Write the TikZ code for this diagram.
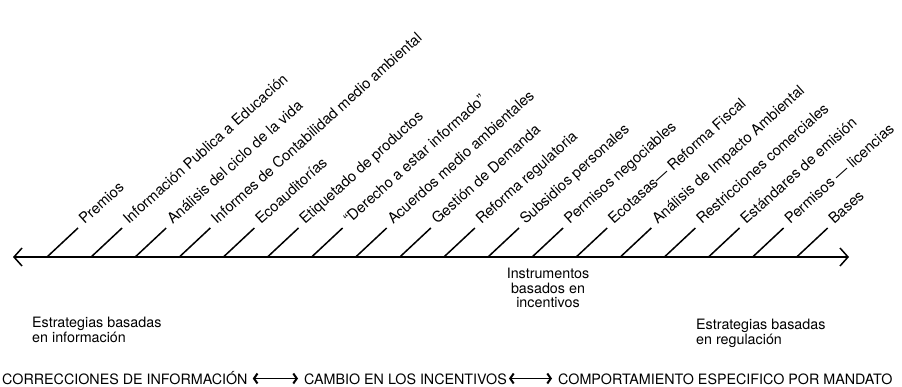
\documentclass[tikz,border=0pt]{standalone}
\usepackage{fontspec}
\setmainfont{TeX Gyre Heros}
\usepackage{tikz}
\usetikzlibrary{arrows.meta}

\begin{document}
\begin{tikzpicture}[x=1pt,y=1pt,
  eje/.style={line width=1.5pt,arrows={Straight Barb[length=8pt,width=18pt]-Straight Barb[length=8pt,width=18pt]}},
  raya/.style={line width=1.5pt},
  lbl/.style={anchor=base west,rotate=42,inner sep=0pt,font=\fontsize{14.8}{15.5}\selectfont},
  txt/.style={inner sep=0pt,font=\fontsize{14.3}{14.5}\selectfont},
  dbl/.style={line width=0.8pt,arrows={Straight Barb[length=3.5pt,width=10pt,line width=2pt]-Straight Barb[length=3.5pt,width=10pt,line width=2pt]}}]
  %\draw[step=10pt,gray,very thin] (0,0) grid (902,386);
  \useasboundingbox (0,0) rectangle (902,386);

  % eje principal
  \coordinate (izq) at (13,129);
  \coordinate (der) at (849,129);
  \draw[eje] (izq) -- (der);

  % rayas y etiquetas
  \draw[raya] (47,129) -- ++(31,29) coordinate (t1);
  \node[lbl] (l1) at ([shift={(6.5,3)}]t1) {Premios};
  \draw[raya] (91.1,129) -- ++(31,29) coordinate (t2);
  \node[lbl] (l2) at ([shift={(6.5,3)}]t2) {Información Publica a Educación};
  \draw[raya] (135.2,129) -- ++(31,29) coordinate (t3);
  \node[lbl] (l3) at ([shift={(6.5,3)}]t3) {Análisis del ciclo de la vida};
  \draw[raya] (179.3,129) -- ++(31,29) coordinate (t4);
  \node[lbl] (l4) at ([shift={(6.5,3)}]t4) {Informes de Contabilidad medio ambiental};
  \draw[raya] (223.4,129) -- ++(31,29) coordinate (t5);
  \node[lbl] (l5) at ([shift={(6.5,3)}]t5) {Ecoauditorías};
  \draw[raya] (267.5,129) -- ++(31,29) coordinate (t6);
  \node[lbl] (l6) at ([shift={(6.5,3)}]t6) {Etiquetado de productos};
  \draw[raya] (311.6,129) -- ++(31,29) coordinate (t7);
  \node[lbl] (l7) at ([shift={(6.5,3)}]t7) {“Derecho a estar informado”};
  \draw[raya] (355.7,129) -- ++(31,29) coordinate (t8);
  \node[lbl] (l8) at ([shift={(6.5,3)}]t8) {Acuerdos medio ambientales};
  \draw[raya] (399.8,129) -- ++(31,29) coordinate (t9);
  \node[lbl] (l9) at ([shift={(6.5,3)}]t9) {Gestión de Demanda};
  \draw[raya] (443.9,129) -- ++(31,29) coordinate (t10);
  \node[lbl] (l10) at ([shift={(6.5,3)}]t10) {Reforma regulatoria};
  \draw[raya] (488,129) -- ++(31,29) coordinate (t11);
  \node[lbl] (l11) at ([shift={(6.5,3)}]t11) {Subsidios personales};
  \draw[raya] (532.1,129) -- ++(31,29) coordinate (t12);
  \node[lbl] (l12) at ([shift={(6.5,3)}]t12) {Permisos negociables};
  \draw[raya] (576.2,129) -- ++(31,29) coordinate (t13);
  \node[lbl] (l13) at ([shift={(6.5,3)}]t13) {Ecotasas— Reforma Fiscal};
  \draw[raya] (620.3,129) -- ++(31,29) coordinate (t14);
  \node[lbl] (l14) at ([shift={(6.5,3)}]t14) {Análisis de Impacto Ambiental};
  \draw[raya] (664.4,129) -- ++(31,29) coordinate (t15);
  \node[lbl] (l15) at ([shift={(6.5,3)}]t15) {Restricciones comerciales};
  \draw[raya] (708.5,129) -- ++(31,29) coordinate (t16);
  \node[lbl] (l16) at ([shift={(6.5,3)}]t16) {Estándares de emisión};
  \draw[raya] (752.6,129) -- ++(31,29) coordinate (t17);
  \node[lbl] (l17) at ([shift={(6.5,3)}]t17) {Permisos — licencias};
  \draw[raya] (796.7,129) -- ++(31,29) coordinate (t18);
  \node[lbl] (l18) at ([shift={(6.5,3)}]t18) {Bases};

  % textos bajo el eje
  \node[txt,align=center,anchor=north] (incent) at (548,118) {Instrumentos\\basados en\\incentivos};
  \node[txt,align=left,anchor=north west] (info) at (32,69) {Estrategias basadas\\en información};
  \node[txt,align=left,anchor=north west] (regul) at (696,67) {Estrategias basadas\\en regulación};

  % fila inferior
  \node[txt,anchor=base west] (corr) at (2,2) {CORRECCIONES DE INFORMACIÓN};
  \node[txt,anchor=base west] (camb) at (304,2) {CAMBIO EN LOS INCENTIVOS};
  \node[txt,anchor=base west] (comp) at (558,2) {COMPORTAMIENTO ESPECIFICO POR MANDATO};
  \draw[dbl] ([shift={(5,5.5)}]corr.base east) -- ([shift={(-6,5.5)}]camb.base west);
  \draw[dbl] ([shift={(2,5.5)}]camb.base east) -- ([shift={(-6,5.5)}]comp.base west);

\end{tikzpicture}
\end{document}
